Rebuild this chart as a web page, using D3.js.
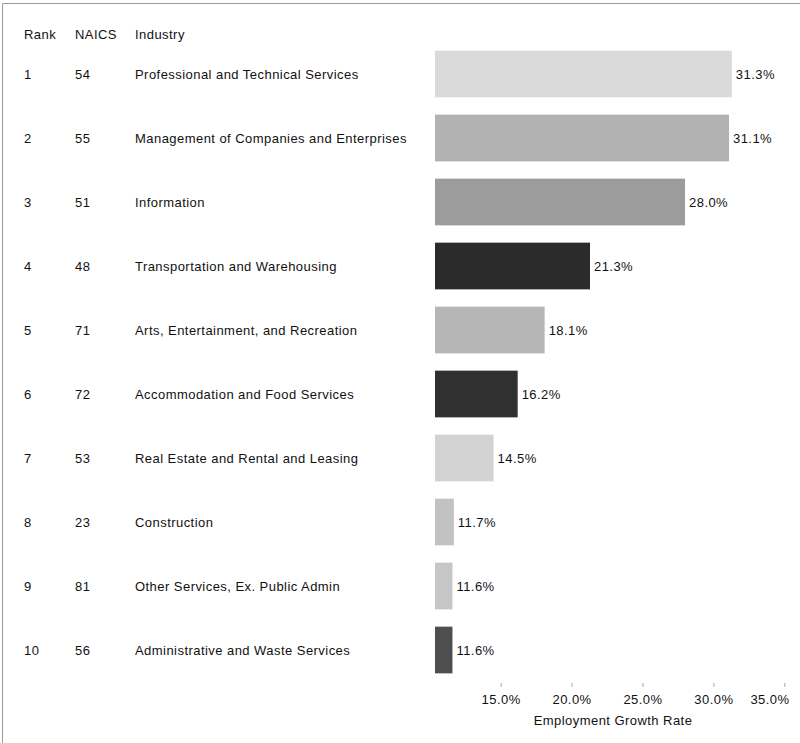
<!DOCTYPE html>
<html>
<head>
<meta charset="utf-8">
<script src="https://cdn.jsdelivr.net/npm/d3@7"></script>
<style>
  html, body { margin: 0; padding: 0; background: #fff; }
  svg { display: block; font-family: "Liberation Sans", Arial, sans-serif; }
  svg text { letter-spacing: 0.45px; }
</style>
</head>
<body>
<svg id="chart" width="800" height="743"></svg>
<script>
// Top ten industries by employment growth
const ranks = [1, 2, 3, 4, 5, 6, 7, 8, 9, 10];
const naics = ["54", "55", "51", "48", "71", "72", "53", "23", "81", "56"];
const industries = [
  "Professional and Technical Services",
  "Management of Companies and Enterprises",
  "Information",
  "Transportation and Warehousing",
  "Arts, Entertainment, and Recreation",
  "Accommodation and Food Services",
  "Real Estate and Rental and Leasing",
  "Construction",
  "Other Services, Ex. Public Admin",
  "Administrative and Waste Services"
];
const growth = [31.3, 31.1, 28.0, 21.3, 18.1, 16.2, 14.5, 11.7, 11.6, 11.6];
const barColors = ["#dadada", "#b2b2b2", "#9c9c9c", "#2b2b2b", "#b6b6b6",
                   "#303030", "#d2d2d2", "#c2c2c2", "#c6c6c6", "#4e4e4e"];
const tickValues = [15, 20, 25, 30, 35];
const headers = ["Rank", "NAICS", "Industry"];

const svg = d3.select("#chart");

// frame: left and top rules
svg.append("path")
  .attr("d", "M2.5,743 V3.5 H800")
  .attr("fill", "none").attr("stroke", "#9a9a9a").attr("stroke-width", 1);

const x = d3.scaleLinear().domain([10.37, 35]).range([435, 784.3]);
const y = d3.scaleBand().domain(ranks).range([42, 682]).paddingInner(0.27).paddingOuter(0.135);

const colX = [24, 75, 135];
const fontSize = 13;

// column headers
svg.append("g").selectAll("text").data(headers).join("text")
  .attr("x", (d, i) => colX[i]).attr("y", 34)
  .attr("dy", "0.35em")
  .attr("font-size", fontSize).attr("fill", "#111")
  .text(d => d);

const rows = svg.append("g").selectAll("g").data(ranks).join("g");
const rowY = d => y(d) + y.bandwidth() / 2;

rows.append("text")
  .attr("x", colX[0]).attr("y", rowY).attr("dy", "0.35em")
  .attr("font-size", fontSize).attr("fill", "#111").text(d => d);
rows.append("text")
  .attr("x", colX[1]).attr("y", rowY).attr("dy", "0.35em")
  .attr("font-size", fontSize).attr("fill", "#111").text((d, i) => naics[i]);
rows.append("text")
  .attr("x", colX[2]).attr("y", rowY).attr("dy", "0.35em")
  .attr("font-size", fontSize).attr("fill", "#111").text((d, i) => industries[i]);

// bars
rows.append("rect")
  .attr("x", x(x.domain()[0]))
  .attr("y", d => y(d))
  .attr("width", (d, i) => x(growth[i]) - x(x.domain()[0]))
  .attr("height", y.bandwidth())
  .attr("fill", (d, i) => barColors[i]);

// value labels
rows.append("text")
  .attr("x", (d, i) => x(growth[i]) + 4)
  .attr("y", rowY).attr("dy", "0.35em")
  .attr("font-size", fontSize).attr("fill", "#111")
  .text((d, i) => growth[i].toFixed(1) + "%");

// x axis: tiny ticks, no domain line
const axis = svg.append("g").attr("transform", "translate(0,683)")
  .call(d3.axisBottom(x).tickValues(tickValues).tickSize(4).tickPadding(8)
        .tickFormat(d => d.toFixed(1) + "%"));
axis.select(".domain").remove();
axis.selectAll("line").attr("stroke", "#aaa");
axis.selectAll("text").attr("font-size", fontSize).attr("fill", "#111")
  .attr("font-family", "\"Liberation Sans\", Arial, sans-serif");
// keep the last tick label inside the frame
axis.selectAll(".tick").filter(d => d === 35).select("text")
  .attr("text-anchor", "end").attr("x", 789 - x(35));

svg.append("text")
  .attr("x", 613).attr("y", 720).attr("dy", "0.35em")
  .attr("text-anchor", "middle").attr("font-size", fontSize).attr("fill", "#111")
  .text("Employment Growth Rate");
</script>
</body>
</html>
